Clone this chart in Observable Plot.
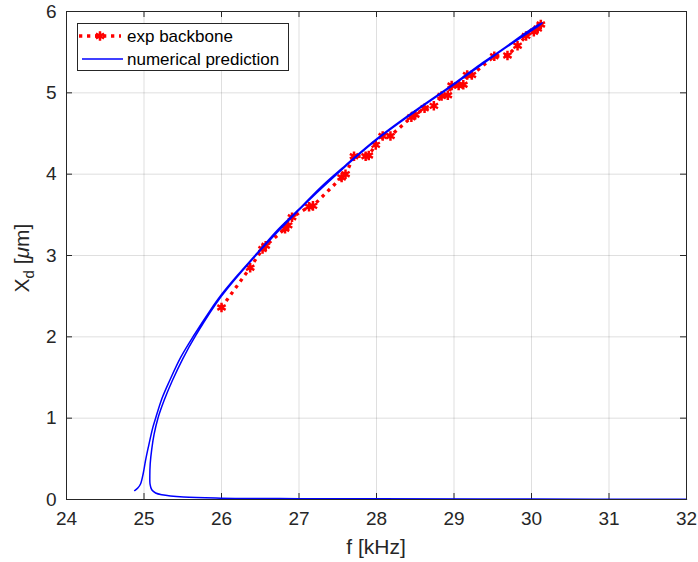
<!DOCTYPE html>
<html>
<head>
<meta charset="utf-8">
<script src="https://cdn.jsdelivr.net/npm/d3@7"></script>
<script src="https://cdn.jsdelivr.net/npm/@observablehq/plot@0.6"></script>
<style>
  html, body { margin: 0; padding: 0; background: #fff; }
  #chart { width: 698px; height: 562px; }
</style>
</head>
<body>
<div id="chart"></div>
<script>
// ---- Data ----
const xTicks = [24, 25, 26, 27, 28, 29, 30, 31, 32];
const yTicks = [0, 1, 2, 3, 4, 5, 6];
const seriesNames = ["exp backbone", "numerical prediction"];
const xLabel = "f [kHz]";

// Experimental backbone (red)
const expF = [26.00, 26.37, 26.53, 26.57, 26.82, 26.86, 26.91, 27.13, 27.18, 27.55, 27.60, 27.71, 27.86, 27.90,
              27.99, 28.08, 28.18, 28.45, 28.50, 28.62, 28.74, 28.84, 28.92, 28.97, 29.06, 29.12, 29.17, 29.23,
              29.52, 29.69, 29.82, 29.93, 30.03, 30.08, 30.12];
const expX = [2.36, 2.85, 3.08, 3.12, 3.33, 3.37, 3.47, 3.60, 3.61, 3.96, 4.00, 4.22, 4.22, 4.23,
              4.36, 4.47, 4.47, 4.70, 4.73, 4.81, 4.84, 4.96, 4.97, 5.09, 5.09, 5.10, 5.22, 5.22,
              5.45, 5.46, 5.58, 5.70, 5.75, 5.79, 5.84];

// Numerical prediction (blue), in path order: upper branch up, return branch down, lower branch out
const numF = [24.88, 24.92, 24.955, 24.99, 25.02, 25.055, 25.115, 25.15, 25.235, 25.33, 25.475, 25.645, 25.85, 26.00, 26.20,
              26.46, 26.72, 27.00, 27.28, 27.60, 28.01, 28.48, 28.95, 29.34, 29.60, 29.99, 30.14,
              30.10, 29.60, 29.00, 28.50, 28.00, 27.50, 27.00, 26.50, 26.00, 25.67, 25.50, 25.365, 25.26, 25.18,
              25.13, 25.10, 25.08, 25.075, 25.078, 25.10, 25.15, 25.23, 25.51, 25.99, 27.00, 28.00, 30.00, 32.00];
const numX = [0.11, 0.14, 0.19, 0.32, 0.48, 0.64, 0.89, 1.00, 1.25, 1.46, 1.75, 2.02, 2.32, 2.52, 2.75,
              3.03, 3.31, 3.57, 3.84, 4.11, 4.44, 4.77, 5.08, 5.35, 5.52, 5.78, 5.86,
              5.83, 5.51, 5.10, 4.77, 4.42, 4.01, 3.56, 3.06, 2.50, 2.02, 1.73, 1.46, 1.22, 1.00,
              0.80, 0.62, 0.44, 0.27, 0.19, 0.12, 0.08, 0.058, 0.03, 0.016, 0.010, 0.008, 0.005, 0.004];

const expData = expF.map((f, i) => ({f, x: expX[i]}));
const numData = numF.map((f, i) => ({f, x: numX[i]}));

// ---- Layout ----
const W = 698, H = 562;
const mL = 66, mR = 12, mT = 11, mB = 63;
const plotW = W - mL - mR, plotH = H - mT - mB;
const tickLen = 6;
const FONT = "'Liberation Sans', Arial, Helvetica, sans-serif";
const AX = "#262626";
const RED = "#ff0000", BLUE = "#0000ff";

const svg = Plot.plot({
  width: W, height: H,
  marginLeft: mL, marginRight: mR, marginTop: mT, marginBottom: mB,
  style: {fontFamily: FONT, background: "#fff", color: AX},
  x: {domain: [24, 32], ticks: xTicks},
  y: {domain: [0, 6], ticks: yTicks},
  marks: [
    Plot.gridX(xTicks, {stroke: AX, strokeOpacity: 0.15, strokeWidth: 1}),
    Plot.gridY(yTicks, {stroke: AX, strokeOpacity: 0.15, strokeWidth: 1}),
    Plot.axisX(xTicks, {tickSize: 0, tickPadding: 12, fontSize: 19, label: null, fill: AX, tickFormat: d => String(d)}),
    Plot.axisY(yTicks, {tickSize: 0, tickPadding: 10, fontSize: 19, label: null, fill: AX, tickFormat: d => String(d)}),
    // inward ticks (MATLAB style), bottom/top/left/right
    Plot.tickX(xTicks, {x: d => d, stroke: AX, insetTop: plotH - tickLen}),
    Plot.tickX(xTicks, {x: d => d, stroke: AX, insetBottom: plotH - tickLen}),
    Plot.tickY(yTicks, {y: d => d, stroke: AX, insetRight: plotW - tickLen}),
    Plot.tickY(yTicks, {y: d => d, stroke: AX, insetLeft: plotW - tickLen}),
    // data
    Plot.line(expData, {x: "f", y: "x", stroke: RED, strokeWidth: 3.3, strokeDasharray: "3.3,4.7", strokeLinecap: "butt"}),
    Plot.dot(expData, {x: "f", y: "x", symbol: "asterisk", r: 4.5, stroke: RED, strokeWidth: 2.5}),
    Plot.line(numData, {x: "f", y: "x", stroke: BLUE, strokeWidth: 1.5, curve: "catmull-rom"}),
    Plot.frame({stroke: AX, strokeWidth: 1})
  ]
});

const s = d3.select(svg);

// X axis label
s.append("text")
  .attr("x", mL + plotW / 2).attr("y", 554)
  .attr("text-anchor", "middle")
  .attr("font-family", FONT).attr("font-size", 21).attr("fill", AX)
  .text(xLabel);

// Y axis label with subscript and mu
const yl = s.append("text")
  .attr("transform", `translate(29,${mT + plotH / 2 + 3}) rotate(-90)`)
  .attr("text-anchor", "middle")
  .attr("font-family", FONT).attr("font-size", 21).attr("fill", AX);
yl.append("tspan").text("X");
yl.append("tspan").attr("font-size", 15).attr("dy", 5).text("d");
yl.append("tspan").attr("dy", -5).text(" [");
yl.append("tspan").attr("font-style", "italic").text("\u03bc");
yl.append("tspan").text("m]");

// Legend
const lg = s.append("g").attr("font-family", FONT).attr("font-size", 17).attr("fill", "#000")
  .attr("text-anchor", "start");
lg.append("rect").attr("x", 77.5).attr("y", 23.5).attr("width", 211).attr("height", 47)
  .attr("fill", "#fff").attr("stroke", AX).attr("stroke-width", 1);
const ly1 = 36, ly2 = 59;
lg.append("line").attr("x1", 79).attr("x2", 121).attr("y1", ly1).attr("y2", ly1)
  .attr("stroke", RED).attr("stroke-width", 3.3).attr("stroke-dasharray", "3.3,4.7");
lg.append("path").attr("d", d3.symbol(d3.symbolAsterisk, Math.PI * 4.5 * 4.5)())
  .attr("transform", `translate(100,${ly1})`).attr("stroke", RED).attr("stroke-width", 2.5).attr("fill", "none");
lg.append("text").attr("x", 127).attr("y", ly1).attr("dy", "0.35em").attr("text-anchor", "start").text(seriesNames[0]);
lg.append("line").attr("x1", 82).attr("x2", 123).attr("y1", ly2).attr("y2", ly2)
  .attr("stroke", BLUE).attr("stroke-width", 1.5);
lg.append("text").attr("x", 127).attr("y", ly2).attr("dy", "0.35em").attr("text-anchor", "start").text(seriesNames[1]);

document.getElementById("chart").appendChild(svg);
</script>
</body>
</html>
